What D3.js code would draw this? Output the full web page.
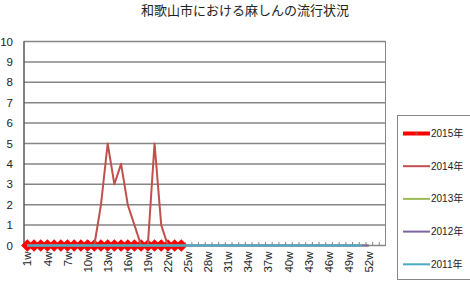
<!DOCTYPE html>
<html lang="ja">
<head>
<meta charset="utf-8">
<title>和歌山市における麻しんの流行状況</title>
<script src="https://d3js.org/d3.v7.min.js"></script>
<style>
  body { margin: 0; background: #fff; }
  svg { display: block; font-family: "Liberation Sans", Arial, "Noto Sans CJK JP", sans-serif; }
  .grid line { stroke: #868686; stroke-width: 1.5; }
  .ylab text, .xlab text { fill: #222; font-size: 11px; }
</style>
</head>
<body>
<svg id="chart" width="470" height="282"></svg>
<script>
// week categories (54 slots on the axis, labels every 3rd)
var weeks = ["1w","2w","3w","4w","5w","6w","7w","8w","9w","10w","11w","12w","13w","14w","15w","16w","17w","18w",
  "19w","20w","21w","22w","23w","24w","25w","26w","27w","28w","29w","30w","31w","32w","33w","34w","35w","36w",
  "37w","38w","39w","40w","41w","42w","43w","44w","45w","46w","47w","48w","49w","50w","51w","52w","53w","54w"];
var tickLabels = ["1w","4w","7w","10w","13w","16w","19w","22w","25w","28w","31w","34w","37w","40w","43w","46w","49w","52w"];
var yTicks = [0,1,2,3,4,5,6,7,8,9,10];

var years = ["2015年","2014年","2013年","2012年","2011年"];
var colors = ["#ff0000","#c0504d","#9bbb59","#8064a2","#4bacc6"];

var cases2015 = [0,0,0,0,0,0,0,0,0,0,0,0,0,0,0,0,0,0,0,0,0,0,0,0];
var cases2014 = [0,0,0,0,0,0,0,0,0,0,0,2,5,3,4,2,1,0,0,5,1,0,0,0];
var cases2013 = [0,0,0,0,0,0,0,0,0,0,0,0,0,0,0,0,0,0,0,0,0,0,0,0,0,0,
  0,0,0,0,0,0,0,0,0,0,0,0,0,0,0,0,0,0,0,0,0,0,0,0,0,0];
var cases2012 = [0,0,0,0,0,0,0,0,0,0,0,0,0,0,0,0,0,0,0,0,0,0,0,0,0,0,
  0,0,0,0,0,0,0,0,0,0,0,0,0,0,0,0,0,0,0,0,0,0,0,0,0,0];
var cases2011 = [0,0,0,0,0,0,0,0,0,0,0,0,0,0,0,0,0,0,0,0,0,0,0,0,0,0,
  0,0,0,0,0,0,0,0,0,0,0,0,0,0,0,0,0,0,0,0,0,0,0,0,0];

var series = [cases2015, cases2014, cases2013, cases2012, cases2011];

var svg = d3.select("#chart");
var plotLeft = 24, plotRight = 385.5, plotTop = 41.5, plotBottom = 245.5;

var x = d3.scaleBand().domain(weeks).range([plotLeft, plotRight]);
var y = d3.scaleLinear().domain([0, 10]).range([plotBottom, plotTop]);

// title
svg.append("text")
  .attr("x", 245).attr("y", 15)
  .attr("text-anchor", "middle")
  .style("font-size", "13px")
  .style("font-family", "'Noto Sans CJK JP', sans-serif")
  .attr("fill", "#222")
  .text("和歌山市における麻しんの流行状況");

// gridlines
svg.append("g").attr("class", "grid")
  .selectAll("line").data(yTicks.slice(1)).enter().append("line")
  .attr("x1", plotLeft).attr("x2", plotRight)
  .attr("y1", function(d) { return y(d); })
  .attr("y2", function(d) { return y(d); });

// plot border
svg.append("rect")
  .attr("x", plotLeft).attr("y", plotTop)
  .attr("width", plotRight - plotLeft).attr("height", plotBottom - plotTop)
  .attr("fill", "none").attr("stroke", "#868686");

svg.append("line")
  .attr("x1", plotLeft).attr("x2", plotLeft).attr("y1", plotTop).attr("y2", plotBottom)
  .attr("stroke", "#404040");

// y labels
var yAxis = svg.append("g").attr("class", "ylab")
  .attr("transform", "translate(" + plotLeft + ",0)")
  .call(d3.axisLeft(y).tickValues(yTicks).tickSize(0).tickPadding(11));
yAxis.select(".domain").remove();
yAxis.selectAll("text").style("font-size", "11.5px");

// x tick marks at category boundaries
svg.append("g").selectAll("line").data(weeks).enter().append("line")
  .attr("x1", function(d) { return x(d) + 0.5; })
  .attr("x2", function(d) { return x(d) + 0.5; })
  .attr("y1", plotBottom).attr("y2", plotBottom - 3.5)
  .attr("stroke", "#868686");

svg.append("line")
  .attr("x1", plotLeft).attr("x2", plotRight).attr("y1", plotBottom).attr("y2", plotBottom)
  .attr("stroke", "#868686").attr("stroke-width", 1.5);

// x labels
var xAxis = svg.append("g").attr("class", "xlab")
  .attr("transform", "translate(0," + plotBottom + ")")
  .call(d3.axisBottom(x).tickValues(tickLabels).tickSize(0));
xAxis.select(".domain").remove();
xAxis.selectAll("text")
  .attr("text-anchor", "end")
  .attr("transform", "rotate(-90)")
  .attr("x", -6).attr("y", 0).attr("dy", "0.36em")
  .style("font-size", "11.5px");

var line = d3.line()
  .x(function(d, i) { return x(weeks[i]) + x.bandwidth() / 2; })
  .y(function(d) { return y(d); });

// 2015 markers and thick line first, then the other years on top
series.forEach(function(s, k) {
  svg.append("path")
    .datum(s)
    .attr("d", line)
    .attr("fill", "none")
    .attr("stroke", colors[k])
    .attr("stroke-width", k === 0 ? 4 : 2)
    .attr("stroke-linejoin", "round");
  if (k === 0) {
    svg.append("g").selectAll("path").data(s).enter().append("path")
      .attr("d", d3.symbol(d3.symbolSquare, 62)())
      .attr("transform", function(d, i) {
        return "translate(" + (x(weeks[i]) + x.bandwidth() / 2) + "," + y(d) + ") rotate(45)";
      })
      .attr("fill", "#ff0000").attr("stroke", "#ff0000");
  }
});

// legend
svg.append("rect")
  .attr("x", 397.5).attr("y", 115.5)
  .attr("width", 80).attr("height", 164)
  .attr("fill", "#fff").attr("stroke", "#868686");

var leg = svg.append("g").selectAll("g").data(years).enter().append("g")
  .attr("transform", function(d, i) { return "translate(0," + (133.5 + i * 32.7) + ")"; });

leg.append("line")
  .attr("x1", 403).attr("x2", 430)
  .attr("stroke", function(d, i) { return colors[i]; })
  .attr("stroke-width", function(d, i) { return i === 0 ? 4 : 2; });

leg.filter(function(d, i) { return i === 0; }).append("path")
  .attr("d", d3.symbol(d3.symbolSquare, 6)())
  .attr("transform", "translate(416.5,0) rotate(45)")
  .attr("fill", "#c04040");

leg.append("text")
  .attr("x", 431).attr("y", 0).attr("dy", "0.35em")
  .style("font-size", "10px")
  .style("font-family", "'Liberation Sans', 'Noto Sans CJK JP', sans-serif")
  .attr("fill", "#222")
  .text(function(d) { return d; });
</script>
</body>
</html>
